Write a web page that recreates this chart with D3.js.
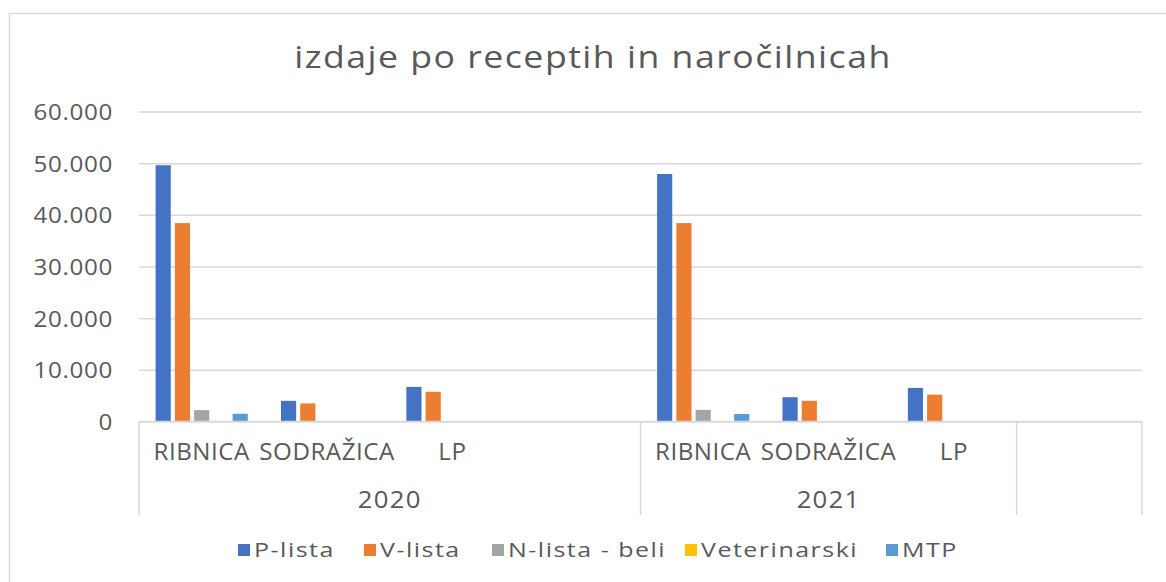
<!DOCTYPE html>
<html>
<head>
<meta charset="utf-8">
<script src="https://cdn.jsdelivr.net/npm/d3@7"></script>
<style>
    body { margin: 0; background: #fff; }
    svg text { font-family: "Open Sans", sans-serif; fill: #595959; }
</style>
</head>
<body>
<div id="chart"></div>
<script>
// category axis: inner labels and outer (year) labels per slot
const placeLabels = ["RIBNICA", "SODRAŽICA", "LP", "", "RIBNICA", "SODRAŽICA", "LP", ""];
const yearLabels = ["2020", "2020", "2020", "2020", "2021", "2021", "2021", ""];

const seriesNames = ["P-lista", "V-lista", "N-lista - beli", "Veterinarski", "MTP"];
const pLista = [49600, 4000, 6700, 0, 47900, 4700, 6500, 0];
const vLista = [38400, 3500, 5750, 0, 38400, 4000, 5200, 0];
const nLista = [2200, 0, 0, 0, 2250, 0, 0, 0];
const veterinarski = [0, 0, 0, 0, 0, 0, 0, 0];
const mtp = [1500, 0, 0, 0, 1450, 0, 0, 0];

const yTicks = [0, 10000, 20000, 30000, 40000, 50000, 60000];
const colors = ["#4472C4", "#ED7D31", "#A5A5A5", "#FFC000", "#5B9BD5"];

const width = 1166, height = 582;
const margin = { top: 111.5, right: 24, bottom: 160.5, left: 139 };

const svg = d3.select("#chart").append("svg")
    .attr("width", width)
    .attr("height", height);

// the source picture is a bit stretched sideways, so text gets a horizontal scale
function label(sel, tx, ty, sx) {
    return sel.attr("transform", `translate(${tx},${ty}) scale(${sx},1)`);
}

// chart frame (right and bottom edges fall outside the picture)
svg.append("path")
    .attr("d", `M9.5,${height}V13.5H${width}`)
    .attr("fill", "none")
    .attr("stroke", "#D9D9D9")
    .attr("stroke-width", 1.5);

label(svg.append("text"), 593, 68, 1.15)
    .attr("text-anchor", "middle")
    .style("font-size", "31px")
    .style("letter-spacing", "1.3px")
    .text("izdaje po receptih in naročilnicah");

const x = d3.scaleBand()
    .domain(d3.range(placeLabels.length))
    .range([margin.left, width - margin.right]);

// Excel style: gap width 219%, overlap -27%
const gapWidth = 2.19, overlap = -0.27;
const step = 1 - overlap;
const inner = -overlap / step;
const clusterSteps = seriesNames.length - inner;
const outer = ((gapWidth + seriesNames.length + (seriesNames.length - 1) * -overlap) / step - clusterSteps) / 2;
const xs = d3.scaleBand()
    .domain(seriesNames)
    .range([0, x.bandwidth()])
    .paddingInner(inner)
    .paddingOuter(outer);

const y = d3.scaleLinear()
    .domain([0, 60000])
    .range([height - margin.bottom, margin.top]);

const fmt = d3.formatLocale({ decimal: ",", thousands: ".", grouping: [3], currency: ["", "€"] }).format(",");

// gridlines + y labels
const yAxis = svg.append("g")
    .attr("transform", `translate(${margin.left},0)`)
    .call(d3.axisLeft(y).tickValues(yTicks).tickFormat(fmt)
        .tickSize(-(width - margin.right - margin.left)));
yAxis.select(".domain").remove();
yAxis.selectAll(".tick line").attr("stroke", "#D9D9D9").attr("stroke-width", 1.5);
yAxis.selectAll(".tick text").each(function () {
    label(d3.select(this).attr("x", null).attr("dy", null), -26, 8, 1.1)
        .attr("fill", "#595959")
        .style("font-size", "22px")
        .style("letter-spacing", "0.6px");
});

const seriesData = [pLista, vLista, nLista, veterinarski, mtp];

seriesNames.forEach((name, si) => {
    svg.append("g")
        .selectAll("rect")
        .data(seriesData[si].map((v, i) => ({ i, v })).filter(d => d.v > 0))
        .join("rect")
        .attr("x", d => x(d.i) + xs(name))
        .attr("y", d => y(d.v))
        .attr("width", xs.bandwidth())
        .attr("height", d => y(0) - y(d.v))
        .attr("fill", colors[si]);
});

// category axis
const axisY = y(0);
const axisBottom = 515;
const ax = svg.append("g").attr("stroke", "#D9D9D9").attr("stroke-width", 1.5);
ax.append("line")
    .attr("x1", margin.left).attr("x2", width - margin.right)
    .attr("y1", axisY).attr("y2", axisY);

// group boundaries for outer labels
const groups = [];
yearLabels.forEach((yl, i) => {
    if (i === 0 || yl !== yearLabels[i - 1] || yl === "") groups.push({ label: yl, start: i, end: i });
    else groups[groups.length - 1].end = i;
});
const edges = [groups[0].start].concat(groups.map(g => g.end + 1));
edges.forEach(e => {
    const ex = e < placeLabels.length ? x(e) : x(placeLabels.length - 1) + x.bandwidth();
    ax.append("line")
        .attr("x1", ex).attr("x2", ex)
        .attr("y1", axisY).attr("y2", axisBottom);
});

svg.append("g")
    .selectAll("text")
    .data(placeLabels)
    .join("text")
    .each(function (d, i) { label(d3.select(this), x(i) + x.bandwidth() / 2, 460, 1.05); })
    .attr("text-anchor", "middle")
    .style("font-size", "23px")
    .style("letter-spacing", "0.5px")
    .text(d => d);

svg.append("g")
    .selectAll("text")
    .data(groups)
    .join("text")
    .each(function (g) { label(d3.select(this), (x(g.start) + x(g.end) + x.bandwidth()) / 2, 508, 1.12); })
    .attr("text-anchor", "middle")
    .style("font-size", "23px")
    .style("letter-spacing", "1.1px")
    .text(g => g.label);

// Legend
const legendX = [238, 364, 492, 685, 886];
const legend = svg.append("g");
seriesNames.forEach((name, i) => {
    legend.append("rect")
        .attr("x", legendX[i])
        .attr("y", 544)
        .attr("width", 12)
        .attr("height", 12)
        .attr("fill", colors[i]);
    label(legend.append("text"), legendX[i] + 16, 557, 1.25)
        .style("font-size", "20px")
        .style("letter-spacing", "1.2px")
        .text(name);
});
</script>
</body>
</html>
